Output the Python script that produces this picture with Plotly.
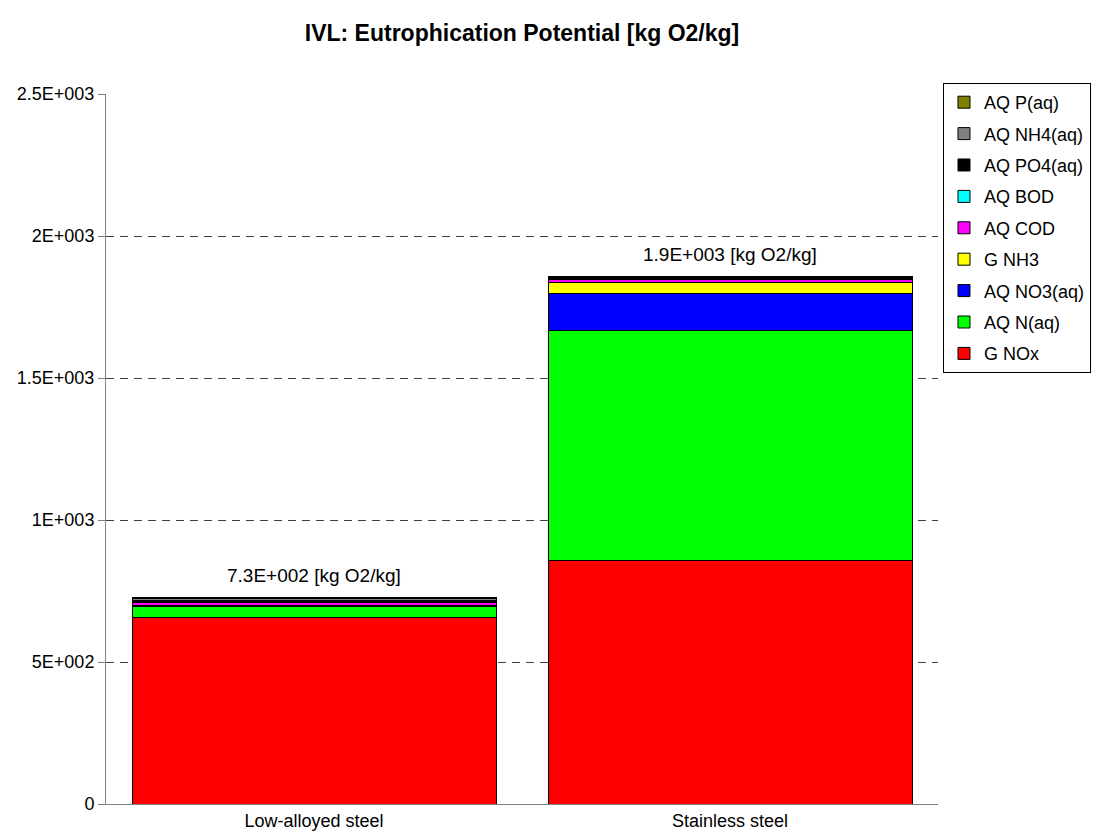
import plotly.graph_objects as go

# categories and stacked series (bottom to top), values in kg O2/kg
materials = ["Low-alloyed steel", "Stainless steel"]

g_nox = [658, 856]
aq_n = [39, 813]
aq_no3 = [2, 130]
g_nh3 = [1, 39]
aq_cod = [11, 10]
aq_bod = [1, 1]
aq_po4 = [5, 4]
aq_nh4 = [6, 4]
aq_p = [5, 2]

series = [
    ("G NOx", g_nox, "#FF0000"),
    ("AQ N(aq)", aq_n, "#00FF00"),
    ("AQ NO3(aq)", aq_no3, "#0000FF"),
    ("G NH3", g_nh3, "#FFFF00"),
    ("AQ COD", aq_cod, "#FF00FF"),
    ("AQ BOD", aq_bod, "#00FFFF"),
    ("AQ PO4(aq)", aq_po4, "#000000"),
    ("AQ NH4(aq)", aq_nh4, "#808080"),
    ("AQ P(aq)", aq_p, "#808000"),
]

y_ticks = [0, 500, 1000, 1500, 2000, 2500]
y_tick_labels = ["0", "5E+002", "1E+003", "1.5E+003", "2E+003", "2.5E+003"]

FONT = "Liberation Sans, Arial, sans-serif"


def sci3(v):
    # Excel-like scientific notation with 3-digit exponent, e.g. 7.3E+002
    mant, exp = f"{v:.1E}".split("E")
    return f"{mant}E{exp[0]}{int(exp[1:]):03d}"


fig = go.Figure()
n = len(series)
for idx, (name, vals, color) in enumerate(series):
    fig.add_trace(go.Bar(
        x=materials,
        y=vals,
        name=name,
        legendgroup=name,
        legendrank=n - idx,
        marker=dict(color=color, line=dict(color="#000000", width=1)),
        width=0.875,
    ))

totals = [sum(s[1][i] for s in series) for i in range(len(materials))]
for m, t in zip(materials, totals):
    fig.add_annotation(
        x=m, y=t, text=f"{sci3(t)} [kg O2/kg]", showarrow=False,
        yanchor="bottom", yshift=9, font=dict(size=19, color="#000000", family=FONT),
    )

fig.update_layout(
    barmode="stack",
    width=1111,
    height=832,
    paper_bgcolor="white",
    plot_bgcolor="white",
    margin=dict(l=106, r=173, t=94, b=28),
    font=dict(family=FONT, size=18, color="#000000"),
    title=dict(
        text="<b>IVL: Eutrophication Potential [kg O2/kg]</b>",
        x=(106 + 938) / 2 / 1111, xanchor="center",
        y=1 - 33 / 832, yanchor="middle",
        font=dict(size=23, family=FONT, color="#000000"),
    ),
    legend=dict(
        traceorder="grouped",
        tracegroupgap=5,
        x=1.006, xanchor="left",
        y=1.0155, yanchor="top",
        bordercolor="#000000", borderwidth=1,
        bgcolor="white",
        entrywidth=138,
        font=dict(size=18, family=FONT),
    ),
    showlegend=True,
)
fig.update_xaxes(
    range=[-0.5, 1.5],
    showline=True, linecolor="#808080", linewidth=1,
    ticks="", showgrid=False, automargin=False,
    tickfont=dict(size=18),
)
fig.update_yaxes(
    range=[0, 2500],
    tickvals=y_ticks, ticktext=y_tick_labels,
    showline=True, linecolor="#808080", linewidth=1,
    ticks="outside", ticklen=7, tickcolor="#808080",
    showgrid=True, gridcolor="#404040", griddash="8px,6px", gridwidth=1,
    zeroline=False, automargin=False,
    tickfont=dict(size=18),
)

# drop the default page margin so the figure sits at the window origin
fig.write_html(
    "out.html",
    config={"displayModeBar": False},
    post_script="document.body.style.margin='0';",
)
